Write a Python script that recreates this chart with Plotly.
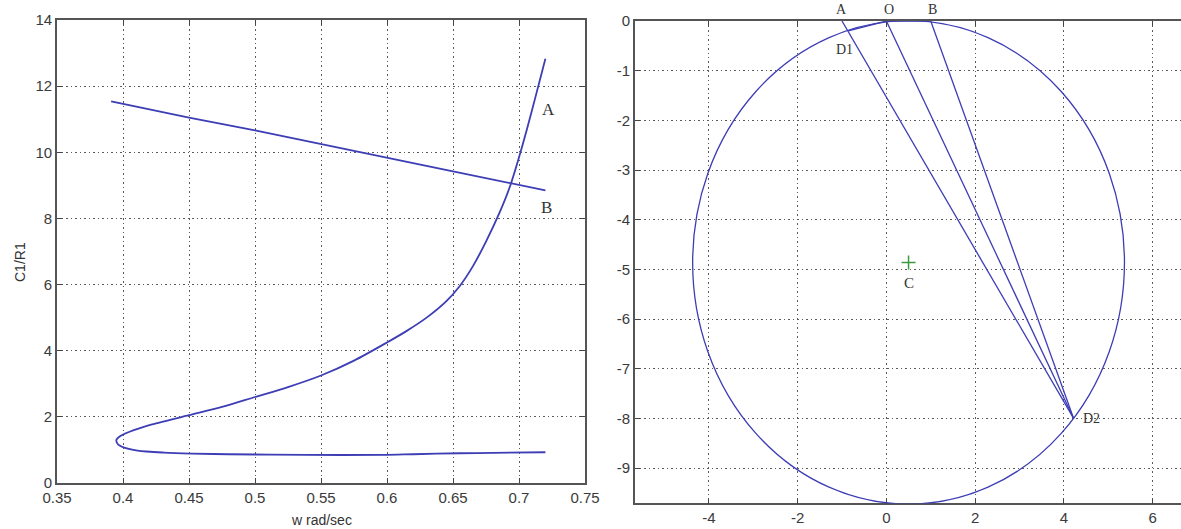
import plotly.graph_objects as go

# ---------------- Left panel data ----------------
curve_a_w = [0.720, 0.680, 0.655, 0.620, 0.597, 0.539, 0.480, 0.452, 0.431, 0.411, 0.401, 0.396,
             0.395, 0.398, 0.405, 0.420, 0.450, 0.475, 0.500, 0.525, 0.550, 0.575, 0.600,
             0.615, 0.630, 0.645, 0.655, 0.665, 0.675, 0.685, 0.693, 0.700, 0.706, 0.712, 0.720]
curve_a_c = [0.93, 0.91, 0.90, 0.87, 0.85, 0.85, 0.87, 0.89, 0.92, 0.98, 1.07, 1.18,
             1.30, 1.42, 1.55, 1.75, 2.05, 2.30, 2.60, 2.90, 3.25, 3.70, 4.25,
             4.60, 5.00, 5.50, 5.95, 6.55, 7.30, 8.15, 8.95, 9.85, 10.70, 11.60, 12.83]
line_b_w = [0.391, 0.450, 0.500, 0.550, 0.600, 0.650, 0.720]
line_b_c = [11.54, 11.05, 10.66, 10.24, 9.83, 9.42, 8.85]
left_x_ticks = [0.35, 0.4, 0.45, 0.5, 0.55, 0.6, 0.65, 0.7, 0.75]
left_y_ticks = [0, 2, 4, 6, 8, 10, 12, 14]

# ---------------- Right panel data ----------------
circle_cx, circle_cy, circle_r = 0.5, -4.86, 4.866
pt_names = ["A", "O", "B", "D1", "D2"]
pt_x = [-1.0, 0.0, 1.0, -0.86, 4.22]
pt_y = [0.0, 0.0, 0.0, -0.20, -8.0]
right_x_ticks = [-4, -2, 0, 2, 4, 6]
right_y_ticks = [0, -1, -2, -3, -4, -5, -6, -7, -8, -9]

BLUE = "#3d3db5"
GRID = "#5a5a5a"
TICKFONT = dict(family="Liberation Sans Narrow, Arial Narrow, Liberation Sans, sans-serif", size=15, color="#3a3a3a")
SERIF = "Liberation Serif, Times New Roman, serif"

# body margin is removed by post_script, so the figure fills the window
W, H, OFF = 1181, 529, 0


def fx(px):
    return (px - OFF) / W


def fy(py):
    return 1 - (py - OFF) / H


fig = go.Figure()

fig.add_trace(go.Scatter(x=curve_a_w, y=curve_a_c, mode="lines",
                         line=dict(color=BLUE, width=1.8, shape="spline", smoothing=0.8),
                         xaxis="x", yaxis="y", showlegend=False))
fig.add_trace(go.Scatter(x=line_b_w, y=line_b_c, mode="lines",
                         line=dict(color=BLUE, width=1.8),
                         xaxis="x", yaxis="y", showlegend=False))

# Right panel lines: A, O, B -> D2 and chord D1 -> O -> B
d = dict(zip(pt_names, zip(pt_x, pt_y)))
for name in ["A", "O", "B"]:
    fig.add_trace(go.Scatter(x=[d[name][0], d["D2"][0]], y=[d[name][1], d["D2"][1]],
                             mode="lines", line=dict(color=BLUE, width=1.3),
                             xaxis="x2", yaxis="y2", showlegend=False))
fig.add_trace(go.Scatter(x=[d["D1"][0], d["O"][0], d["B"][0]], y=[d["D1"][1], d["O"][1], d["B"][1]],
                         mode="lines", line=dict(color=BLUE, width=1.3),
                         xaxis="x2", yaxis="y2", showlegend=False))
fig.add_trace(go.Scatter(x=[circle_cx], y=[circle_cy], mode="markers",
                         marker=dict(symbol="cross-thin", size=10, line=dict(color="#3f9a3f", width=1.5)),
                         xaxis="x2", yaxis="y2", showlegend=False))

fig.add_shape(type="circle", xref="x2", yref="y2",
              x0=circle_cx - circle_r, x1=circle_cx + circle_r,
              y0=circle_cy - circle_r, y1=circle_cy + circle_r,
              line=dict(color=BLUE, width=1.3), layer="above")

common = dict(showgrid=True, gridcolor=GRID, griddash="1.5px,3px", gridwidth=1.2,
              ticks="inside", ticklen=5, tickcolor="#444", tickwidth=1.2,
              showline=True, linecolor="#555", linewidth=1.6, automargin=False,
              zeroline=False, tickfont=TICKFONT)

fig.update_layout(
    width=W, height=H,
    margin=dict(l=0, r=0, t=0, b=0),
    paper_bgcolor="white", plot_bgcolor="white",
    xaxis=dict(domain=[fx(57), fx(585)], range=[0.35, 0.75], tickvals=left_x_ticks,
               ticktext=[f"{v:g}" for v in left_x_ticks], mirror="allticks", anchor="y", **common),
    yaxis=dict(domain=[fy(483), fy(20)], range=[0, 14], tickvals=left_y_ticks,
               ticktext=[str(v) for v in left_y_ticks], mirror="allticks", anchor="x", **common),
    xaxis2=dict(domain=[fx(635), 1.0], range=[-5.665, 6.64], tickvals=right_x_ticks,
                ticktext=[str(v) for v in right_x_ticks], mirror="allticks", anchor="y2", **common),
    yaxis2=dict(domain=[fy(503.4), fy(21)], range=[-9.71, 0], tickvals=right_y_ticks,
                ticktext=[str(v) for v in right_y_ticks], mirror=False, anchor="x2", **common),
)

ann = []
ann.append(dict(text="A", x=0.722, y=11.3, xref="x", yref="y", showarrow=False,
                font=dict(family=SERIF, size=17, color="#333")))
ann.append(dict(text="B", x=0.721, y=8.32, xref="x", yref="y", showarrow=False,
                font=dict(family=SERIF, size=17, color="#333")))
ann.append(dict(text="C1/R1", x=fx(20), y=fy(262), xref="paper", yref="paper", showarrow=False,
                xanchor="center", yanchor="middle",
                textangle=-90, font=dict(family=TICKFONT["family"], size=14, color="#333")))
ann.append(dict(text="w rad/sec", x=fx(321), y=fy(520), xref="paper", yref="paper", showarrow=False,
                xanchor="center", yanchor="middle",
                font=dict(family=TICKFONT["family"], size=14, color="#333")))
# labels above the top edge of the right panel (outside the data range -> paper y)
top_label_x = {"A": -1.01, "O": 0.06, "B": 1.04}
for name, lx in top_label_x.items():
    ann.append(dict(text=name, x=lx, y=fy(9), xref="x2", yref="paper", showarrow=False,
                    xanchor="center", yanchor="middle",
                    font=dict(family=SERIF, size=14, color="#333")))
inner_label_pos = {"D1": (-0.95, -0.57), "D2": (4.62, -8.0)}
for name, (lx, ly) in inner_label_pos.items():
    ann.append(dict(text=name, x=lx, y=ly, xref="x2", yref="y2", showarrow=False,
                    font=dict(family=SERIF, size=14, color="#333")))
ann.append(dict(text="C", x=circle_cx, y=circle_cy - 0.42, xref="x2", yref="y2", showarrow=False,
                font=dict(family=SERIF, size=15, color="#333")))
fig.update_layout(annotations=ann)

fig.write_html("out.html", config={"displayModeBar": False},
               post_script="document.body.style.margin='0';document.body.style.padding='0';")
